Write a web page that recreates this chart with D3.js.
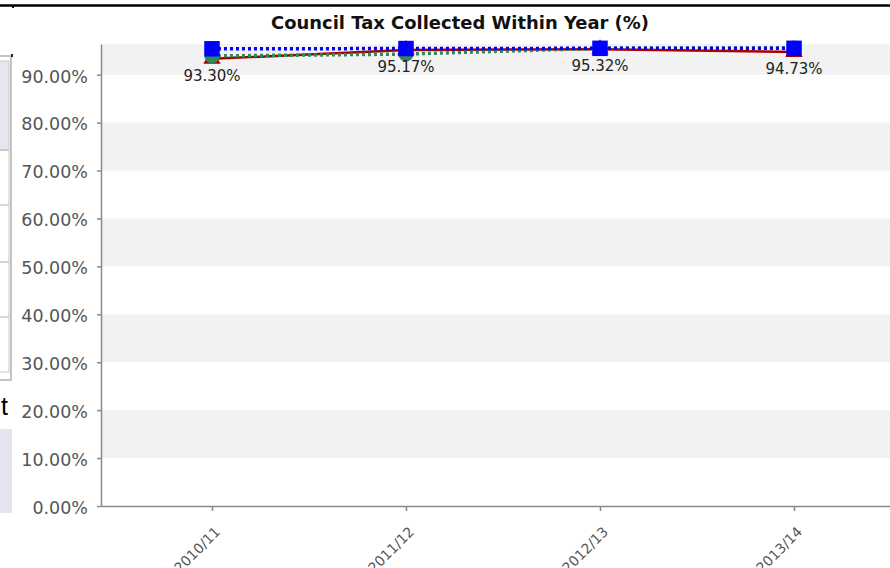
<!DOCTYPE html>
<html>
<head>
<meta charset="utf-8">
<script src="https://cdn.jsdelivr.net/npm/d3@7"></script>
<style>
  body { margin: 0; background: #fff; }
  svg { display: block; }
</style>
</head>
<body>
<svg id="chart" width="890" height="568"></svg>
<script>
const categories = ["2010/11", "2011/12", "2012/13", "2013/14"];
const actualValues = [93.30, 95.17, 95.32, 94.73];      // red, labelled
const comparatorValues = [93.9, 94.3, 95.5, 95.55];     // green dotted
const targetValues = [95.4, 95.45, 95.5, 95.5];         // blue dotted
const yTicks = [0, 10, 20, 30, 40, 50, 60, 70, 80, 90];
const chartTitle = "Council Tax Collected Within Year (%)";

const svg = d3.select("#chart");
const W = 890, H = 568;
const plot = { left: 101, right: 905, top: 44, bottom: 506 };
const yMax = 96.4;

// bits of the surrounding web page that are visible in the screenshot
const page = svg.append("g").attr("class", "page");
page.append("line")
    .attr("x1", 0).attr("x2", W).attr("y1", 5.5).attr("y2", 5.5)
    .attr("stroke", "#000").attr("stroke-width", 2.5);
page.append("rect").attr("x", 12).attr("y", 6).attr("width", 2).attr("height", 2).attr("fill", "#000");
page.append("rect")
    .attr("x", -2).attr("y", 56).attr("width", 13).attr("height", 324)
    .attr("fill", "#fff").attr("stroke", "#c4c4c4").attr("stroke-width", 2);
page.append("rect").attr("x", 11).attr("y", 54).attr("width", 2).attr("height", 3).attr("fill", "#222");
page.append("rect")
    .attr("x", -1).attr("y", 61).attr("width", 10).attr("height", 89)
    .attr("fill", "#e6e6f0").attr("stroke", "#c8c8c8");
[150, 205, 262, 317].forEach(yy => {
    page.append("line").attr("x1", 0).attr("x2", 9).attr("y1", yy).attr("y2", yy)
        .attr("stroke", "#c8c8c8").attr("stroke-width", 1.5);
});
page.append("rect")
    .attr("x", -1).attr("y", 150).attr("width", 10).attr("height", 222)
    .attr("fill", "none").attr("stroke", "#c8c8c8");
page.append("text")
    .attr("x", 8).attr("y", 415)
    .attr("text-anchor", "end")
    .style("font-family", "'Liberation Sans', Arial, sans-serif")
    .style("font-size", "25px")
    .attr("fill", "#000")
    .text("t");
page.append("rect").attr("x", 0).attr("y", 429).attr("width", 12).attr("height", 84).attr("fill", "#e4e4ee");

// scales
const x = d3.scalePoint()
    .domain(categories)
    .range([plot.left, plot.right])
    .padding(0.572);

const y = d3.scaleLinear()
    .domain([0, yMax])
    .range([plot.bottom, plot.top]);

// alternating background bands
const bands = yTicks.filter(t => t % 20 === 10);
svg.append("g").selectAll("rect")
    .data(bands)
    .join("rect")
    .attr("x", plot.left)
    .attr("width", W - plot.left)
    .attr("y", d => y(Math.min(d + 10, yMax)))
    .attr("height", d => y(d) - y(Math.min(d + 10, yMax)))
    .attr("fill", "#f2f2f2");

// title
svg.append("text")
    .attr("x", 460).attr("y", 29)
    .attr("text-anchor", "middle")
    .attr("textLength", 378)
    .attr("lengthAdjust", "spacingAndGlyphs")
    .style("font-family", "'DejaVu Sans', Verdana, sans-serif")
    .style("font-weight", "bold")
    .style("font-size", "18px")
    .attr("fill", "#111")
    .text(chartTitle);

// y axis
const yAxis = svg.append("g")
    .attr("transform", `translate(${plot.left},0)`)
    .call(d3.axisLeft(y)
        .tickValues(yTicks)
        .tickFormat(d => d.toFixed(2) + "%")
        .tickSize(4)
        .tickPadding(9)
        .tickSizeOuter(0));
yAxis.select(".domain").attr("stroke", "#8a8a8a").attr("stroke-width", 1.5);
yAxis.selectAll(".tick line").attr("stroke", "#8a8a8a").attr("stroke-width", 1.5);
yAxis.selectAll(".tick text")
    .attr("dy", "0.42em")
    .style("font-family", "'DejaVu Sans', Verdana, sans-serif")
    .style("font-size", "17.5px")
    .attr("fill", "#555");

// x axis
const xAxis = svg.append("g")
    .attr("transform", `translate(0,${plot.bottom})`)
    .call(d3.axisBottom(x).tickSize(5).tickSizeOuter(0));
xAxis.select(".domain").attr("stroke", "#8a8a8a").attr("stroke-width", 1.5);
xAxis.selectAll(".tick line").attr("stroke", "#8a8a8a").attr("stroke-width", 1.5);
xAxis.selectAll(".tick text")
    .attr("text-anchor", "end")
    .attr("dy", 0)
    .attr("transform", "translate(3,21) rotate(-45)")
    .style("font-family", "'DejaVu Sans', Verdana, sans-serif")
    .style("font-size", "14px")
    .attr("fill", "#555");

// series
const line = d3.line()
    .x((d, i) => x(categories[i]))
    .y(d => y(d));

const series = svg.append("g");

series.append("path")
    .datum(actualValues)
    .attr("d", line)
    .attr("fill", "none")
    .attr("stroke", "#aa0000")
    .attr("stroke-width", 2.5);

series.append("path")
    .datum(comparatorValues)
    .attr("d", line)
    .attr("fill", "none")
    .attr("stroke", "#2e8b57")
    .attr("stroke-width", 3.5)
    .attr("stroke-dasharray", "3,3");

series.append("path")
    .datum(targetValues)
    .attr("d", line)
    .attr("fill", "none")
    .attr("stroke", "#0000ff")
    .attr("stroke-width", 3.5)
    .attr("stroke-dasharray", "3,3");

series.selectAll(".tri")
    .data(actualValues)
    .join("path")
    .attr("class", "tri")
    .attr("transform", (d, i) => `translate(${x(categories[i])},${y(d)})`)
    .attr("d", d3.symbol(d3.symbolTriangle, 130))
    .attr("fill", "#aa0000");

series.selectAll(".dot")
    .data(comparatorValues)
    .join("circle")
    .attr("class", "dot")
    .attr("cx", (d, i) => x(categories[i]))
    .attr("cy", d => y(d))
    .attr("r", 7.5)
    .attr("fill", "#2e8b57");

series.selectAll(".sq")
    .data(targetValues)
    .join("path")
    .attr("class", "sq")
    .attr("transform", (d, i) => `translate(${x(categories[i])},${y(d)})`)
    .attr("d", d3.symbol(d3.symbolSquare, 240))
    .attr("fill", "#0000ff");

// data labels under the red series
svg.append("g").selectAll("text")
    .data(actualValues)
    .join("text")
    .attr("x", (d, i) => x(categories[i]))
    .attr("y", d => y(d) + 22)
    .attr("text-anchor", "middle")
    .style("font-family", "'DejaVu Sans', Verdana, sans-serif")
    .style("font-size", "15px")
    .attr("fill", "#222")
    .text(d => d.toFixed(2) + "%");
</script>
</body>
</html>
